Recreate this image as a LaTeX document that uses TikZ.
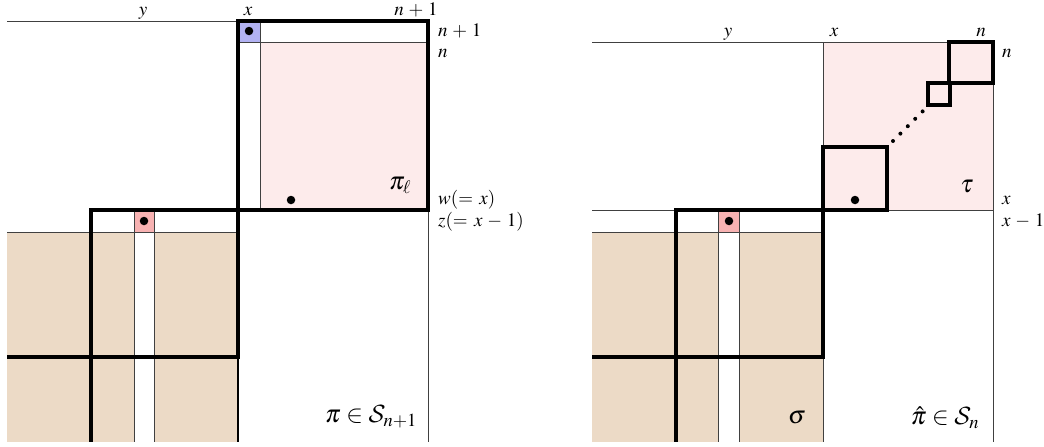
\documentclass[tikz,border=0pt]{standalone}
\usepackage{mathptmx}
\DeclareMathAlphabet{\mathcal}{OMS}{cmsy}{m}{n}
\usepackage{fontspec}
\setmainfont{Liberation Serif}
\definecolor{pinkbg}{RGB}{253,235,235}
\definecolor{bluesq}{RGB}{178,178,242}
\definecolor{redsq}{RGB}{247,178,178}
\definecolor{tanbg}{RGB}{236,218,198}
\newcommand{\bop}[1]{\mkern2mu#1\mkern2mu}
\tikzset{
  thinln/.style={line width=1pt, draw=black!75},
  thickln/.style={line width=4.3pt, draw=black},
  dotmark/.style={circle, fill=black, inner sep=0pt, minimum size=8.5pt},
  smalldot/.style={circle, fill=black, inner sep=0pt, minimum size=4pt},
  lab/.style={inner sep=0pt, anchor=base, font=\fontsize{19}{22}\selectfont},
  rlab/.style={inner sep=0pt, anchor=base west, font=\fontsize{19}{22}\selectfont},
  biglab/.style={inner sep=0pt, font=\fontsize{25}{29}\selectfont},
}
\begin{document}
\begin{tikzpicture}[x=1pt,y=-1pt]
\useasboundingbox (0,0) rectangle (1044,447);
% ================= LEFT =================
\fill[pinkbg] (260,42) rectangle (428,210);
\fill[bluesq] (238,21) rectangle (260,42);
\fill[redsq] (134,211) rectangle (154,232);
\fill[tanbg] (7,232) rectangle (134,442);
\fill[tanbg] (154,232) rectangle (238,442);
\draw[thinln] (7,21) -- (238,21);
\draw[thinln] (238,42) -- (428,42);
\draw[thinln] (260,21) -- (260,210);
\draw[thinln] (7,232) -- (238,232);
\draw[thinln] (134,211) -- (134,442);
\draw[thinln] (154,211) -- (154,442);
\draw[line width=1.6pt] (238,357) -- (238,442);
\draw[thinln] (428,210) -- (428,442);
\draw[thickln] (238,21) rectangle (428,210);
\draw[thickln] (91,210) rectangle (238,357);
\draw[thickln] (7,357) -- (91,357);
\draw[thickln] (91,357) -- (91,442);
\node[dotmark] (d1) at (249,31) {};
\node[dotmark] (d2) at (291,200) {};
\node[dotmark] (d3) at (144,221) {};
\node[lab] (ly) at (143,15) {$y$};
\node[lab] (lx) at (248,15) {$x$};
\node[lab] (ln1) at (416,15) {$n\bop{+}1$};
\node[rlab] (rn1) at (438,36) {$n\bop{+}1$};
\node[rlab] (rn) at (438,57) {$n$};
\node[rlab] (rw) at (438,204) {$w(=\,x)$};
\node[rlab] (rz) at (438,226) {$z(=\,x\bop{-}1)$};
\node[biglab] (pil) at (400,185) {$\pi_\ell$};
\node[biglab] (pis) at (371,417) {$\pi\in\mathcal{S}_{n+1}$};
% ================= RIGHT =================
\fill[pinkbg] (823,42) rectangle (993,210);
\fill[redsq] (718,211) rectangle (739,232);
\fill[tanbg] (592,232) rectangle (718,442);
\fill[tanbg] (739,232) rectangle (823,442);
\draw[thinln] (592,42) -- (823,42);
\draw[thinln] (823,42) rectangle (993,210);
\draw[thinln] (592,210) -- (823,210);
\draw[thinln] (592,232) -- (823,232);
\draw[thinln] (718,211) -- (718,442);
\draw[thinln] (739,211) -- (739,442);
\draw[thinln] (823,210) -- (823,442);
\draw[thinln] (993,210) -- (993,442);
\draw[thickln] (676,210) rectangle (823,357);
\draw[thickln] (592,357) -- (676,357);
\draw[thickln] (676,357) -- (676,442);
\draw[thickln] (823,147) rectangle (887,210);
\draw[thickln] (949,42) rectangle (993,83);
\draw[thickln] (928,83) rectangle (950,105);
\foreach \i in {0,...,4} {
  \node[smalldot] (s\i) at ({893+7.4*\i},{141-7.4*\i}) {};
}
\node[dotmark] (d4) at (855,200) {};
\node[dotmark] (d5) at (729,221) {};
\node[lab] (Ly) at (728,36) {$y$};
\node[lab] (Lx) at (834,36) {$x$};
\node[lab] (Ln) at (981,36) {$n$};
\node[rlab] (Rn) at (1002,57) {$n$};
\node[rlab] (Rx) at (1002,204) {$x$};
\node[rlab] (Rx1) at (1002,226) {$x\bop{-}1$};
\node[biglab] (tau) at (967,187) {$\tau$};
\node[biglab] (sig) at (797,418) {$\sigma$};
\node[biglab] (pih) at (945,418) {$\hat{\pi}\in\mathcal{S}_n$};
\end{tikzpicture}
\end{document}
